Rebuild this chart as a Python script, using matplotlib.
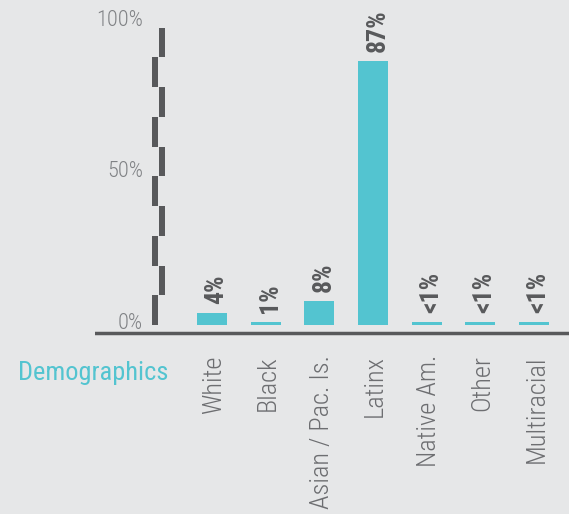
import matplotlib
matplotlib.use('Agg')
import matplotlib.pyplot as plt

categories = ['White', 'Black', 'Asian / Pac. Is.', 'Latinx', 'Native Am.', 'Other', 'Multiracial']
values = [4, 1, 8, 87, 1, 1, 1]
value_labels = ['4%', '1%', '8%', '87%', '<1%', '<1%', '<1%']
y_ticks = [0, 50, 100]
y_tick_labels = ['0%', '50%', '100%']

bg = '#e6e7e8'
teal = '#53c4d0'
dark = '#58595b'
grey = '#808285'
label_grey = '#6d6e71'
font = ['Roboto Condensed', 'Roboto', 'DejaVu Sans']

fig = plt.figure(figsize=(5.69, 5.14), dpi=100, facecolor=bg)
ax = fig.add_axes([95 / 569, 0.347, 474 / 569, 0.6405])
ax.set_facecolor(bg)
ax.set_xlim(-2.18, 6.65)
ax.set_ylim(-3.5, 105)
for s in ax.spines.values():
    s.set_visible(False)

xs = list(range(len(categories)))
ax.bar(xs, values, width=0.56, color=teal)

for x, v, lab in zip(xs, values, value_labels):
    ax.text(x + 0.08, v + 3, lab, rotation=90, ha='center', va='bottom',
            fontsize=18.5, fontweight='bold', color=dark, family=font)

# zigzag axis
seg = 9.8
for k in range(10):
    ax.bar(-1.06 if k % 2 == 0 else -0.93, seg, bottom=k * seg, width=0.12, color=dark)

ax.axhline(-2.6, color=dark, linewidth=2.5)

for t, lab in zip(y_ticks, y_tick_labels):
    ax.text(-1.285, t + 0.5, lab, ha='right', va='center', fontsize=16,
            fontweight='light', color=grey, family=font)
ax.set_yticks([])

ax.set_xticks([x + 0.04 for x in xs])
ax.set_xticklabels(categories, rotation=90, fontsize=19, fontweight='light',
                   color=label_grey, family=font)
ax.tick_params(axis='x', length=0, pad=14)

fig.text(18 / 569, 0.2607, 'Demographics', ha='left', va='baseline', fontsize=19,
         color=teal, family=font)

fig.savefig('out.png', dpi=100, facecolor=bg)
